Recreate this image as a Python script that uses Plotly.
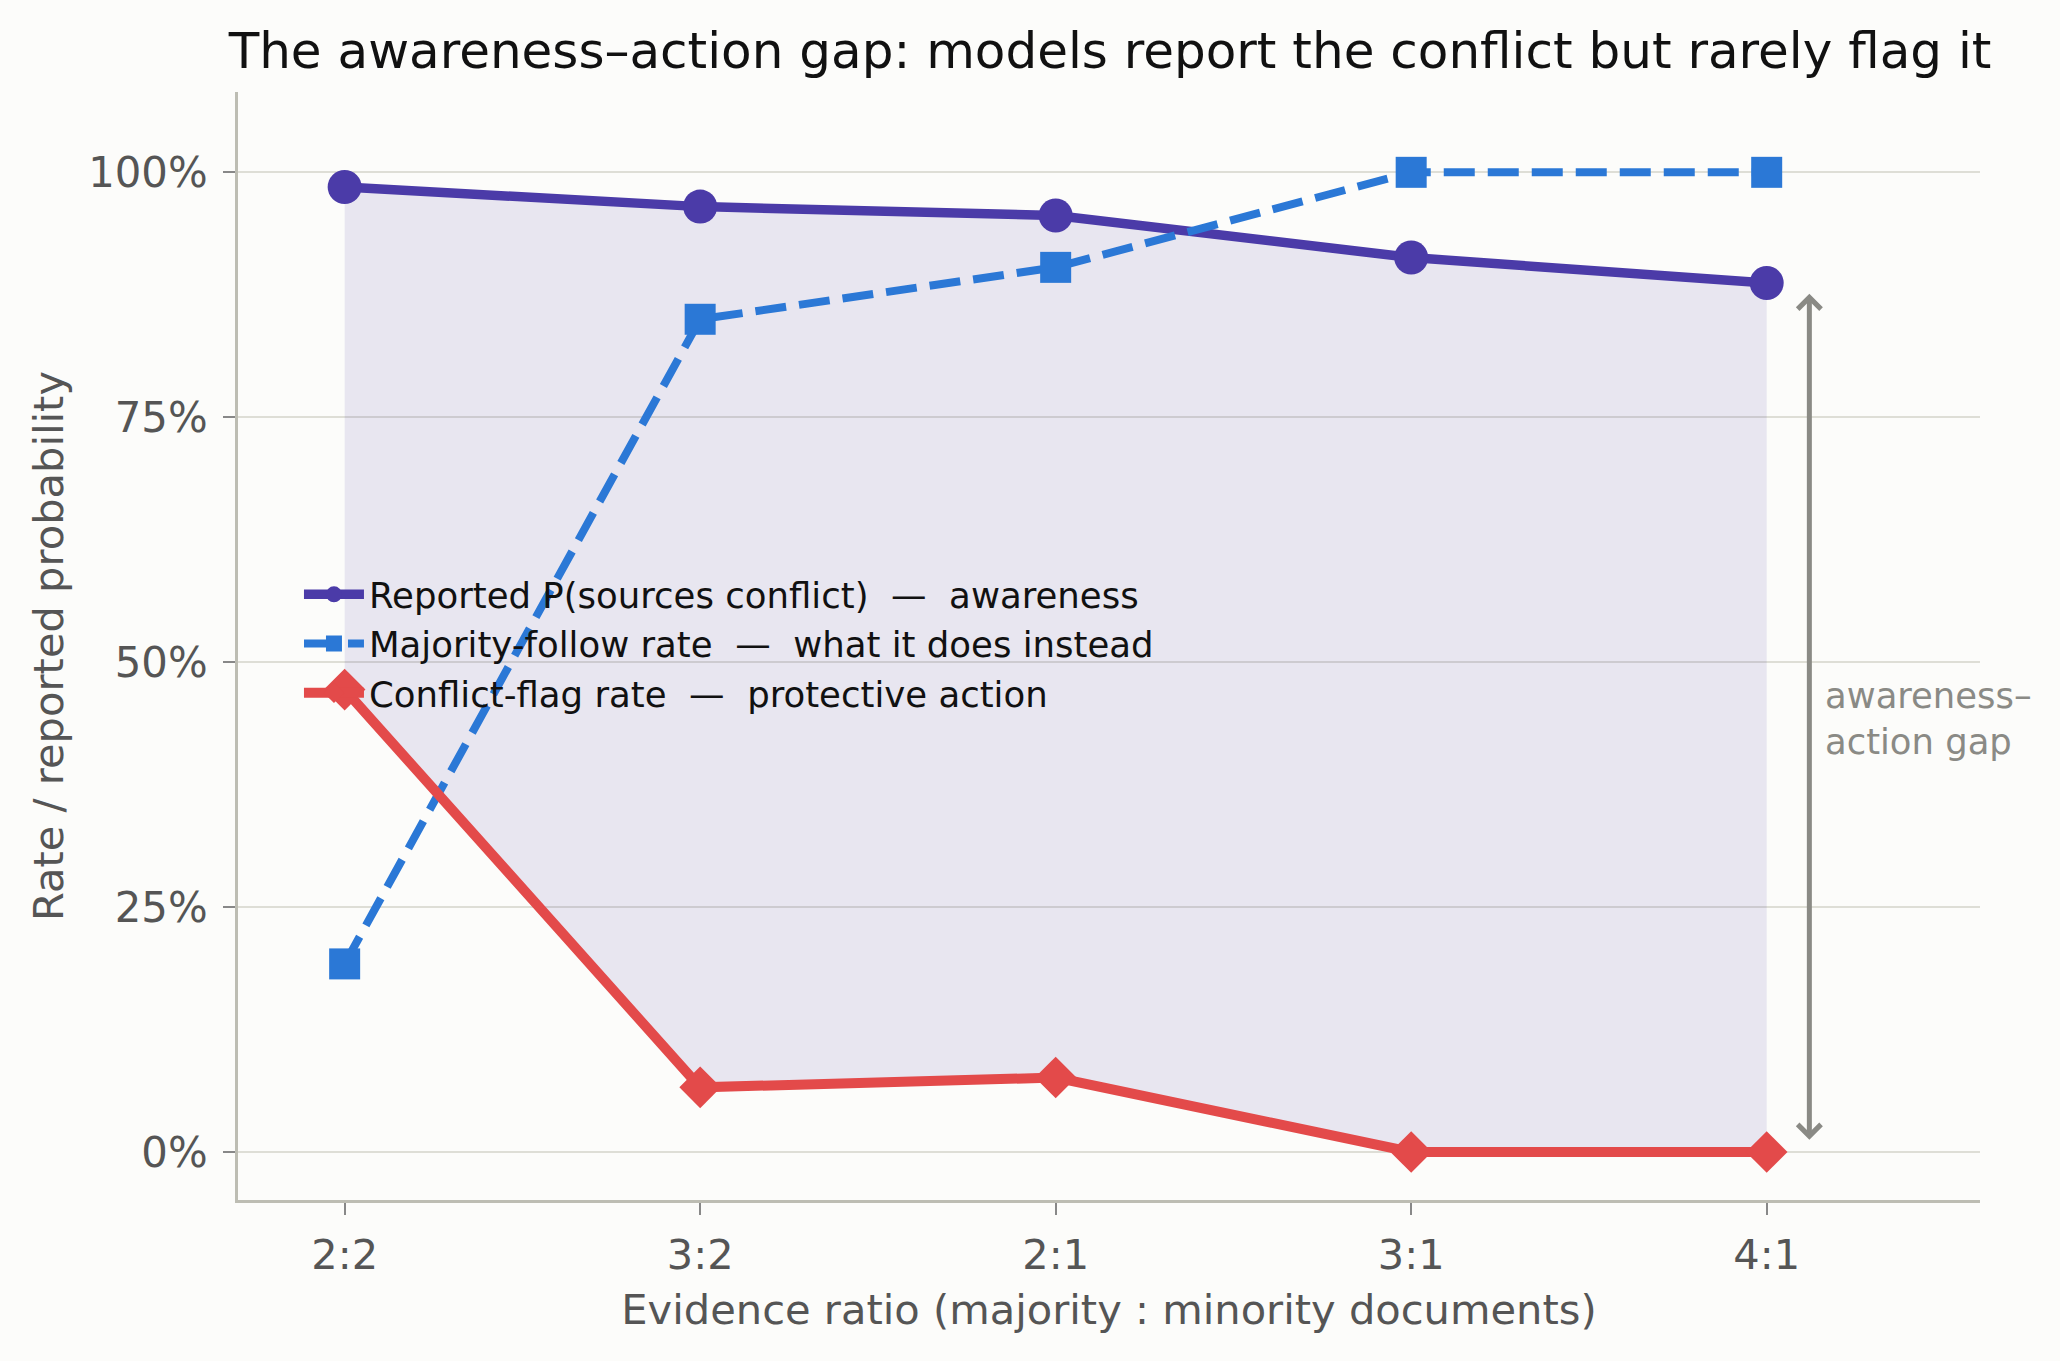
import plotly.graph_objects as go

# ---- data ----
ratios = ["2:2", "3:2", "2:1", "3:1", "4:1"]
reported_conflict = [98.5, 96.5, 95.6, 91.3, 88.7]
majority_follow = [19.2, 85.0, 90.3, 100.0, 100.0]
conflict_flag = [47.2, 6.6, 7.6, 0.0, 0.0]
y_ticks = [0, 25, 50, 75, 100]

x = list(range(len(ratios)))

PURPLE = "#4B3BA8"
BLUE = "#2B78D6"
RED = "#E34A4A"
FONT = "DejaVu Sans"

fig = go.Figure()

# shaded gap between awareness and action
fig.add_trace(go.Scatter(x=x, y=conflict_flag, mode="lines", line=dict(width=0),
                         showlegend=False, hoverinfo="skip"))
fig.add_trace(go.Scatter(x=x, y=reported_conflict, mode="lines", line=dict(width=0),
                         fill="tonexty", fillcolor="rgba(75,59,168,0.11)",
                         showlegend=False, hoverinfo="skip"))

fig.add_trace(go.Scatter(
    x=x, y=reported_conflict, mode="lines+markers",
    name="Reported P(sources conflict)  —  awareness",
    line=dict(color=PURPLE, width=9.5),
    marker=dict(symbol="circle", size=34, color=PURPLE)))
fig.add_trace(go.Scatter(
    x=x, y=majority_follow, mode="lines+markers",
    name="Majority-follow rate  —  what it does instead",
    line=dict(color=BLUE, width=8, dash="31px,13px"),
    marker=dict(symbol="square", size=31, color=BLUE)))
fig.add_trace(go.Scatter(
    x=x, y=conflict_flag, mode="lines+markers",
    name="Conflict-flag rate  —  protective action",
    line=dict(color=RED, width=10),
    marker=dict(symbol="diamond", size=32, color=RED)))

# gap arrow
gap_x = 4.12
fig.add_annotation(x=gap_x, y=87.6, ax=gap_x, ay=1.1, xref="x", yref="y",
                   axref="x", ayref="y", text="", showarrow=True,
                   arrowhead=4, startarrowhead=4, arrowside="end+start",
                   arrowsize=0.9, startarrowsize=0.9,
                   arrowwidth=5, arrowcolor="#8A8A85")
fig.add_annotation(x=4.158, y=44.3, xref="x", yref="y",
                   text="awareness–<br>action gap", showarrow=False,
                   xanchor="left", yanchor="middle", align="left",
                   font=dict(family=FONT, size=35.4, color="#8A8A85"))

fig.update_layout(
    width=2060, height=1361,
    margin=dict(l=238, r=80, t=92, b=161),
    paper_bgcolor="#FCFCFA", plot_bgcolor="#FCFCFA",
    font=dict(family=FONT, size=41, color="#555555"),
    title=dict(text="The awareness–action gap: models report the conflict but rarely flag it",
               x=0.5006, xref="paper", xanchor="center",
               y=1 - 50 / 1361, yref="container", yanchor="middle",
               font=dict(family=FONT, size=50, color="#111111")),
    legend=dict(x=0.035, y=0.502, xanchor="left", yanchor="middle",
                traceorder="normal",
                bgcolor="rgba(0,0,0,0)", borderwidth=0,
                font=dict(family=FONT, size=35.5, color="#111111"),
                itemwidth=60),
    showlegend=True,
)

fig.update_xaxes(
    range=[-0.3, 4.6], tickmode="array", tickvals=x, ticktext=ratios,
    showgrid=False, zeroline=False,
    showline=True, linecolor="#BDBDB3", linewidth=3,
    ticks="outside", ticklen=12, tickwidth=2, tickcolor="#888888",
    ticklabelstandoff=4,
    tickfont=dict(family=FONT, size=41.5, color="#555555"),
    title=dict(text="Evidence ratio (majority : minority documents)",
               font=dict(family=FONT, size=41.6, color="#555555"), standoff=18),
)
fig.update_yaxes(
    range=[-4.9, 108.2], tickmode="array", tickvals=y_ticks,
    ticktext=[f"{v}%" for v in y_ticks],
    showgrid=True, gridcolor="#DEDED6", gridwidth=2, zeroline=False,
    showline=True, linecolor="#BDBDB3", linewidth=3,
    ticks="outside", ticklen=12, tickwidth=2, tickcolor="#888888",
    ticklabelstandoff=7,
    tickfont=dict(family=FONT, size=41.8, color="#555555"),
    title=dict(text="Rate / reported probability",
               font=dict(family=FONT, size=41.6, color="#555555"), standoff=12),
)

fig.write_html("out.html")
